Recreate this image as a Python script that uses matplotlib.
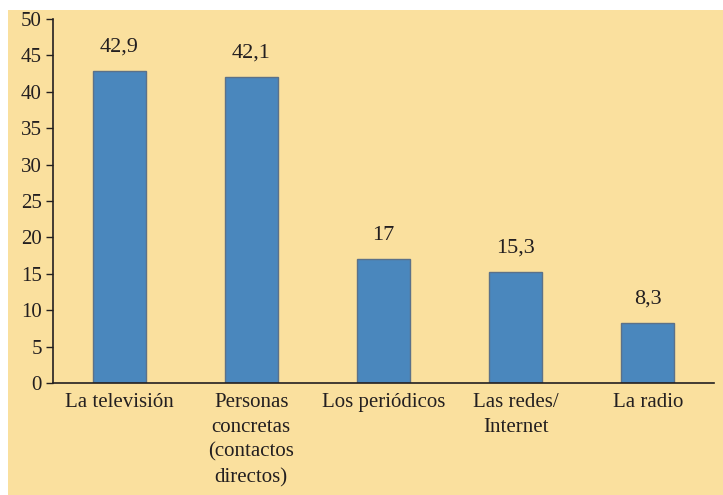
import matplotlib.pyplot as plt
from matplotlib.patches import Rectangle

# data
categories = ["La televisión", "Personas\nconcretas\n(contactos\ndirectos)",
              "Los periódicos", "Las redes/\nInternet", "La radio"]
values = [42.9, 42.1, 17, 15.3, 8.3]
value_labels = ["42,9", "42,1", "17", "15,3", "8,3"]
y_ticks = [0, 5, 10, 15, 20, 25, 30, 35, 40, 45, 50]

bg = "#FAE09E"
bar_color = "#4A87BD"
text_color = "#231F20"

plt.rcParams['font.family'] = ['Liberation Serif', 'DejaVu Serif']

fig = plt.figure(figsize=(7.23, 4.95), dpi=100, facecolor="white")
# yellow panel behind everything
fig.patches.append(Rectangle((8 / 723, 0), 1, 1 - 10 / 495, transform=fig.transFigure,
                             facecolor=bg, edgecolor="none", zorder=-1))

ax = fig.add_axes([53 / 723, 1 - 383 / 495, (714 - 53) / 723, (383 - 19) / 495])
ax.set_facecolor("none")
ax.set_zorder(2)

x = range(len(categories))
bars = ax.bar(x, values, width=0.4, color=bar_color, edgecolor="#5B7189", linewidth=1)

for b, lab in zip(bars, value_labels):
    ax.annotate(lab, (b.get_x() + b.get_width() / 2, b.get_height()),
                xytext=(0, 17), textcoords="offset points", ha="center", va="center",
                fontsize=16, color=text_color)

ax.set_xlim(-0.5, 4.5)
ax.set_ylim(0, 50)
ax.set_yticks(y_ticks)
ax.tick_params(axis="y", labelsize=15, colors=text_color, length=5, width=1,
               direction="out", pad=3)
ax.set_xticks(list(x))
ax.set_xticklabels(categories, fontsize=15, color=text_color, linespacing=1.42, va="top")
ax.tick_params(axis="x", length=0, pad=7)

for s in ["top", "right"]:
    ax.spines[s].set_visible(False)
for s in ["left", "bottom"]:
    ax.spines[s].set_color(text_color)
    ax.spines[s].set_linewidth(1.2)

fig.savefig("out.png", dpi=100, facecolor=fig.get_facecolor())
